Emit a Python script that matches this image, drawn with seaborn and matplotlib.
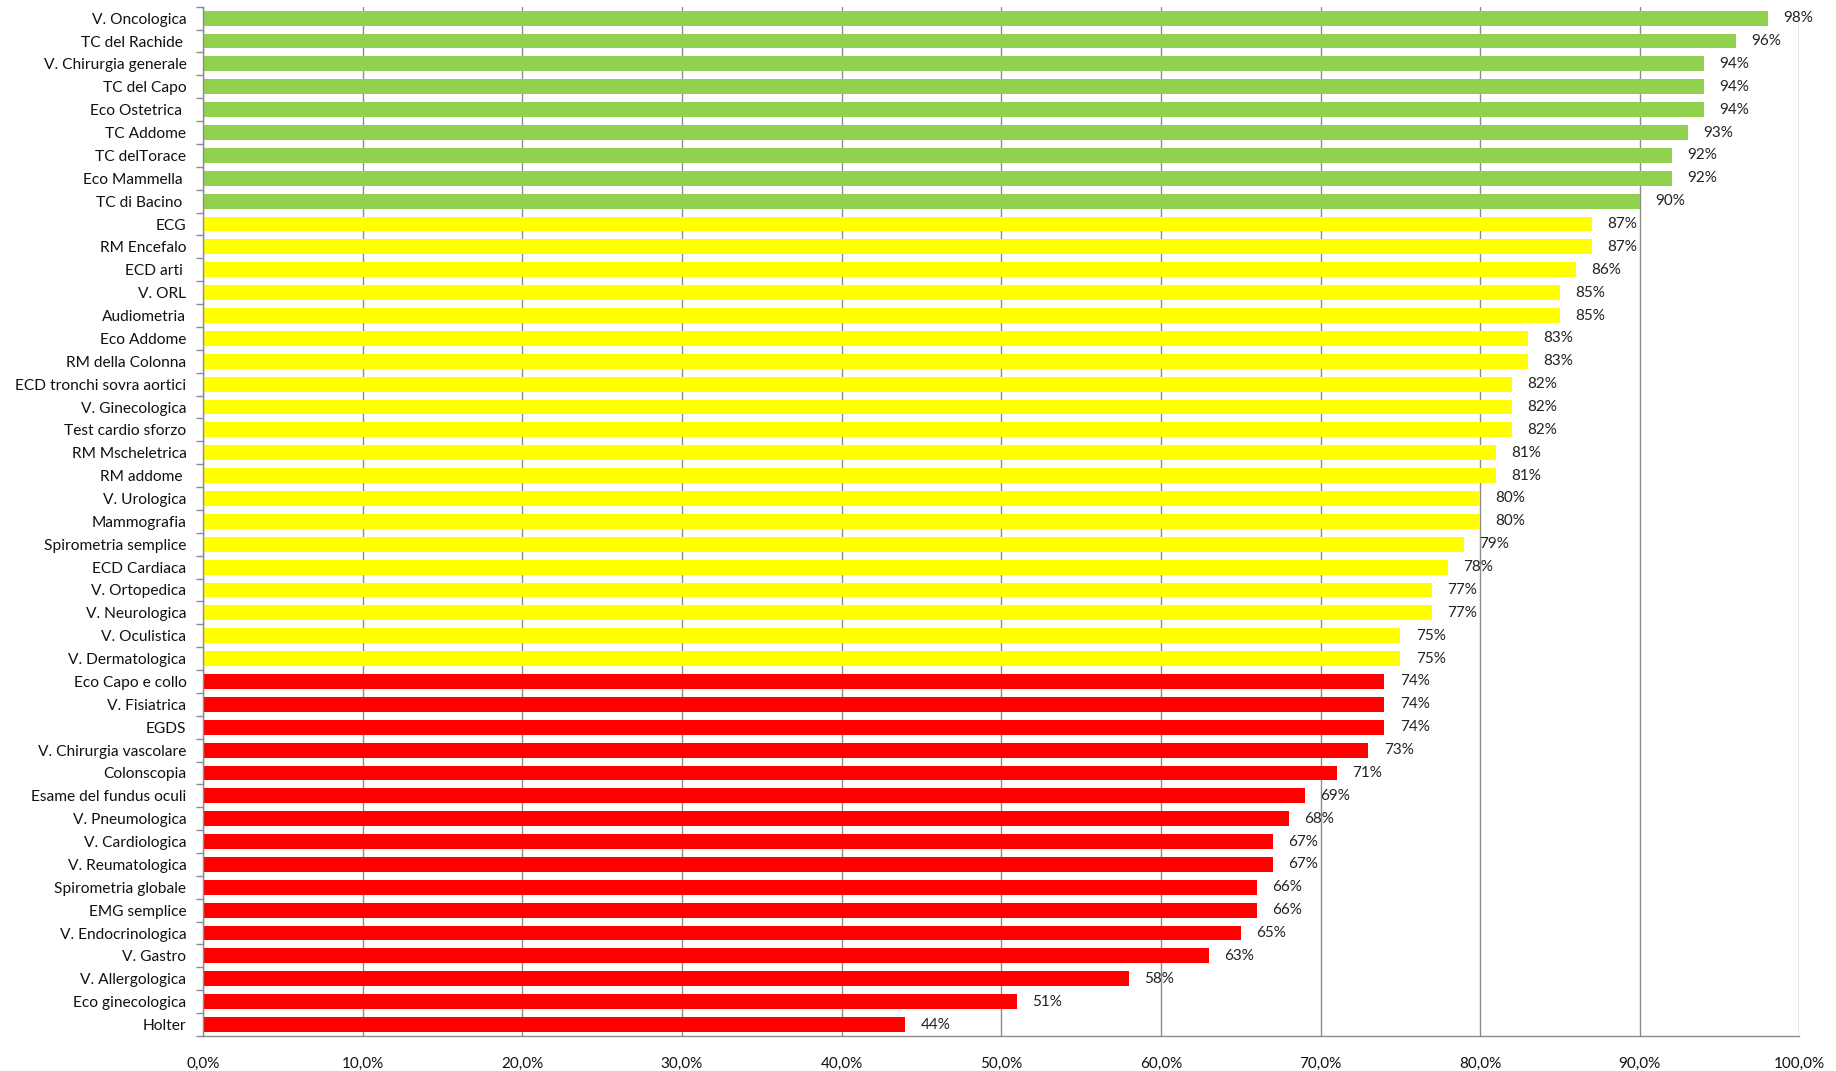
import matplotlib
matplotlib.use("Agg")
import matplotlib.pyplot as plt
import seaborn as sns
import pandas as pd
from matplotlib.ticker import FuncFormatter, FixedLocator

labels = [
    "V. Oncologica", "TC del Rachide ", "V. Chirurgia generale", "TC del Capo", "Eco Ostetrica ",
    "TC Addome", "TC delTorace", "Eco Mammella ", "TC di Bacino ", "ECG", "RM Encefalo",
    "ECD arti ", "V. ORL", "Audiometria", "Eco Addome", "RM della Colonna",
    "ECD tronchi sovra aortici", "V. Ginecologica", "Test cardio sforzo", "RM Mscheletrica",
    "RM addome ", "V. Urologica", "Mammografia", "Spirometria semplice", "ECD Cardiaca",
    "V. Ortopedica", "V. Neurologica", "V. Oculistica", "V. Dermatologica", "Eco Capo e collo",
    "V. Fisiatrica", "EGDS", "V. Chirurgia vascolare", "Colonscopia", "Esame del fundus oculi",
    "V. Pneumologica", "V. Cardiologica", "V. Reumatologica", "Spirometria globale",
    "EMG semplice", "V. Endocrinologica", "V. Gastro", "V. Allergologica", "Eco ginecologica",
    "Holter",
]
values = [98, 96, 94, 94, 94, 93, 92, 92, 90, 87, 87, 86, 85, 85, 83, 83, 82, 82, 82, 81, 81,
          80, 80, 79, 78, 77, 77, 75, 75, 74, 74, 74, 73, 71, 69, 68, 67, 67, 66, 66, 65, 63,
          58, 51, 44]
groups = ["alto"] * 9 + ["medio"] * 20 + ["basso"] * 16
palette = {"alto": "#92D050", "medio": "#FFFF00", "basso": "#FF0000"}
xticks = [0, 10, 20, 30, 40, 50, 60, 70, 80, 90, 100]

df = pd.DataFrame({"label": labels, "value": values, "group": groups})

sns.set_theme(style="white")
plt.rcParams["font.family"] = ["Lato", "DejaVu Sans"]

fig = plt.figure(figsize=(18.36, 10.71), dpi=100)
ax = fig.add_axes([0.1106, 0.0327, 0.8695, 0.961])

sns.barplot(data=df, y="label", x="value", hue="group", palette=palette,
            dodge=False, legend=False, width=0.65, ax=ax, order=labels,
            hue_order=["alto", "medio", "basso"], saturation=1, linewidth=0)

for cont in ax.containers:
    ax.bar_label(cont, fmt="%d%%", padding=11, fontsize=11, color="#222222")

ax.set_xlim(0, 100)
ax.set_ylim(len(labels) - 0.5, -0.5)
ax.xaxis.set_major_locator(FixedLocator(xticks))
ax.xaxis.set_major_formatter(FuncFormatter(lambda v, p: f"{v:.1f}%".replace(".", ",")))
ax.grid(axis="x", color="#8c8c8c", linewidth=1)
ax.set_axisbelow(True)
ax.set_xlabel("")
ax.set_ylabel("")

for s in ["top", "right"]:
    ax.spines[s].set_visible(False)
for s in ["left", "bottom"]:
    ax.spines[s].set_color("#8c8c8c")
    ax.spines[s].set_linewidth(1)

ax.tick_params(axis="y", which="major", length=0, labelsize=11.2, labelcolor="#111111", pad=12)
ax.tick_params(axis="x", which="major", length=5, color="#8c8c8c", labelsize=11,
               labelcolor="#111111", pad=10, direction="out")
ax.set_yticks([i + 0.5 for i in range(-1, len(labels))], minor=True)
ax.tick_params(axis="y", which="minor", length=5, color="#8c8c8c", direction="out", left=True)

fig.savefig("out.png", dpi=100)
